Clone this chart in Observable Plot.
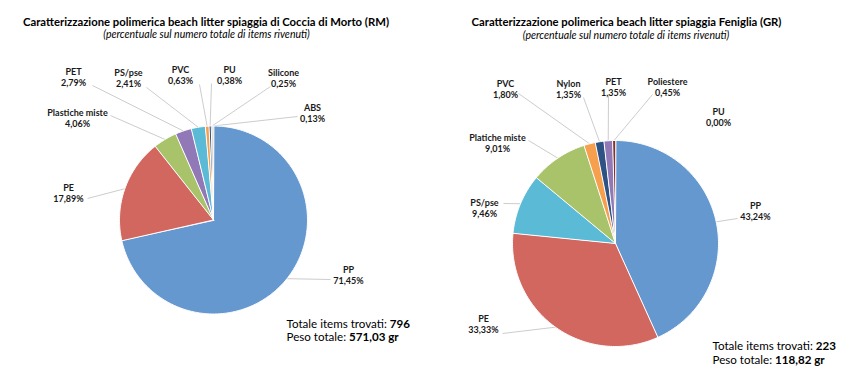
<!DOCTYPE html>
<html>
<head>
<meta charset="utf-8">
<script src="https://cdn.jsdelivr.net/npm/d3@7"></script>
<script src="https://cdn.jsdelivr.net/npm/@observablehq/plot@0.6"></script>
<style>
  html, body { margin: 0; padding: 0; background: #fff; }
  #chart svg { display: block; }
</style>
</head>
<body>
<div id="chart"></div>
<script>
// ---------- DATA ----------
const leftTitle = "Caratterizzazione polimerica beach litter spiaggia di Coccia di Morto (RM)";
const rightTitle = "Caratterizzazione polimerica beach litter spiaggia Feniglia (GR)";
const subtitle = "(percentuale sul numero totale di items rivenuti)";

const leftCategories = ["PP", "PE", "Plastiche miste", "PET", "PS/pse", "PVC", "PU", "Silicone", "ABS"];
const leftValues = [71.45, 17.89, 4.06, 2.79, 2.41, 0.63, 0.38, 0.25, 0.13];

const rightCategories = ["PP", "PE", "PS/pse", "Platiche miste", "PVC", "Nylon", "PET", "Poliestere", "PU"];
const rightValues = [43.24, 33.33, 9.46, 9.01, 1.80, 1.35, 1.35, 0.45, 0.00];

const leftTotalsLabels = ["Totale items trovati: ", "Peso totale: "];
const leftTotalsValues = ["796", "571,03 gr"];
const rightTotalsLabels = ["Totale items trovati: ", "Peso totale: "];
const rightTotalsValues = ["223", "118,82 gr"];

// ---------- STYLE / LAYOUT ----------
const leftColors = ["#6698d0", "#d2675f", "#a9c36a", "#9079b6", "#5bbad5", "#f6a04e", "#2d5283", "#7e3330", "#6a7f3a"];
const rightColors = ["#6698d0", "#d2675f", "#5bbad5", "#a9c36a", "#f6a04e", "#2d5283", "#9079b6", "#7e3330", "#6a7f3a"];

const W = 848, H = 378;
const FONT = "Lato";
const leftPie = {cx: 213, cy: 219.5, r: 94};
const rightPie = {cx: 615, cy: 243, r: 103};

// label centre [x, y] and leader anchor [x, y] (null = no leader)
const leftLabelPos = [[348, 274], [68, 192.5], [77, 117.5], [73, 76.5], [128, 77.5], [180, 74.5], [229, 74.5], [283, 77.5], [312, 112.5]];
const leftLeaderPos = [[330, 279], [87, 198], [110, 115], [92, 85], [146, 87], [199, 84], [211, 83], [270, 86], [297, 116]];
const rightLabelPos = [[755, 210.5], [483, 323], [484, 207.5], [497, 142.5], [505, 88], [568, 88.5], [613, 86.5], [667, 86.5], [718, 116.5]];
const rightLeaderPos = [[737, 218], [502, 333], [503, 203], [528, 140], [518, 93], [583, 97], [608, 95], [652, 94], null];

const leftTitlePos = [205.5, 22, 206, 34];
const rightTitlePos = [626, 22, 625.5, 35];
const leftTotalsPos = [286, 324, 337];
const rightTotalsPos = [712, 346, 360];

const TITLE_SIZE = 11.3, SUB_SIZE = 10.5, LABEL_SIZE = 9, TOT_SIZE = 11.6;

// ---------- GEOMETRY ----------
const fmtPct = v => v.toFixed(2).replace(".", ",") + "%";

function build(chart, cats, vals, colors, pie, labelPos, leaderPos) {
  const total = d3.sum(vals);
  const polys = [], leaders = [], labels = [];
  let acc = 0;
  cats.forEach((c, i) => {
    const a0 = acc / total * 2 * Math.PI;
    acc += vals[i];
    const a1 = acc / total * 2 * Math.PI;
    const key = chart + "-" + c;
    if (a1 - a0 > 0) {
      const n = Math.max(2, Math.ceil((a1 - a0) / (Math.PI / 180)));
      polys.push({key, x: pie.cx, y: pie.cy, color: colors[i]});
      for (let k = 0; k <= n; k++) {
        const a = a0 + (a1 - a0) * k / n;
        polys.push({key, x: pie.cx + pie.r * Math.sin(a), y: pie.cy - pie.r * Math.cos(a), color: colors[i]});
      }
    }
    const am = (a0 + a1) / 2;
    if (leaderPos[i]) {
      leaders.push({
        x1: pie.cx + pie.r * Math.sin(am), y1: pie.cy - pie.r * Math.cos(am),
        x2: leaderPos[i][0], y2: leaderPos[i][1]
      });
    }
    labels.push({x: labelPos[i][0], y: labelPos[i][1], text: c + "\n" + fmtPct(vals[i])});
  });
  return {polys, leaders, labels};
}

const L = build("L", leftCategories, leftValues, leftColors, leftPie, leftLabelPos, leftLeaderPos);
const R = build("R", rightCategories, rightValues, rightColors, rightPie, rightLabelPos, rightLeaderPos);

const polys = [...L.polys, ...R.polys];
const leaders = [...L.leaders, ...R.leaders];
const labels = [...L.labels, ...R.labels];

const titles = [
  {x: leftTitlePos[0], y: leftTitlePos[1], text: leftTitle},
  {x: rightTitlePos[0], y: rightTitlePos[1], text: rightTitle}
];
const subs = [
  {x: leftTitlePos[2], y: leftTitlePos[3], text: subtitle},
  {x: rightTitlePos[2], y: rightTitlePos[3], text: subtitle}
];

// measure the regular part with a real SVG text element so the bold part follows it
function measure(text) {
  const ns = "http://www.w3.org/2000/svg";
  const svg = document.createElementNS(ns, "svg");
  svg.setAttribute("width", 10); svg.setAttribute("height", 10);
  svg.style.position = "absolute"; svg.style.visibility = "hidden";
  const t = document.createElementNS(ns, "text");
  t.setAttribute("font-family", FONT);
  t.setAttribute("font-size", TOT_SIZE);
  t.setAttribute("xml:space", "preserve");
  t.style.whiteSpace = "pre";
  t.textContent = text;
  svg.appendChild(t);
  document.body.appendChild(svg);
  const w = t.getComputedTextLength();
  document.body.removeChild(svg);
  return w;
}

const totReg = [], totBold = [];
[[leftTotalsLabels, leftTotalsValues, leftTotalsPos], [rightTotalsLabels, rightTotalsValues, rightTotalsPos]].forEach(([labs, vals, pos]) => {
  labs.forEach((t, i) => {
    const y = pos[1 + i];
    totReg.push({x: pos[0], y, text: t});
    totBold.push({x: pos[0] + measure(t), y, text: vals[i]});
  });
});

const plot = Plot.plot({
  width: W, height: H,
  margin: 0,
  x: {domain: [0, W], range: [0, W], axis: null},
  y: {domain: [0, H], range: [0, H], axis: null},
  color: {type: "identity"},
  style: {fontFamily: FONT, background: "#fff", color: "#000"},
  marks: [
    Plot.link(leaders, {x1: "x1", y1: "y1", x2: "x2", y2: "y2", stroke: "#bfbfbf", strokeWidth: 0.8}),
    Plot.line(polys, {x: "x", y: "y", z: "key", fill: "color", stroke: "#fff", strokeWidth: 1, curve: "linear-closed"}),
    Plot.text(labels, {x: "x", y: "y", text: "text", fontSize: LABEL_SIZE, fontWeight: "bold", lineHeight: 1.22, fill: "#1a1a1a"}),
    Plot.text(titles, {x: "x", y: "y", text: "text", fontSize: TITLE_SIZE, fontWeight: "bold", fill: "#000"}),
    Plot.text(subs, {x: "x", y: "y", text: "text", fontSize: SUB_SIZE, fontStyle: "italic", fill: "#000"}),
    Plot.text(totReg, {x: "x", y: "y", text: "text", fontSize: TOT_SIZE, textAnchor: "start", fill: "#000"}),
    Plot.text(totBold, {x: "x", y: "y", text: "text", fontSize: TOT_SIZE, fontWeight: "bold", textAnchor: "start", fill: "#000"})
  ]
});
document.getElementById("chart").appendChild(plot);
</script>
</body>
</html>
